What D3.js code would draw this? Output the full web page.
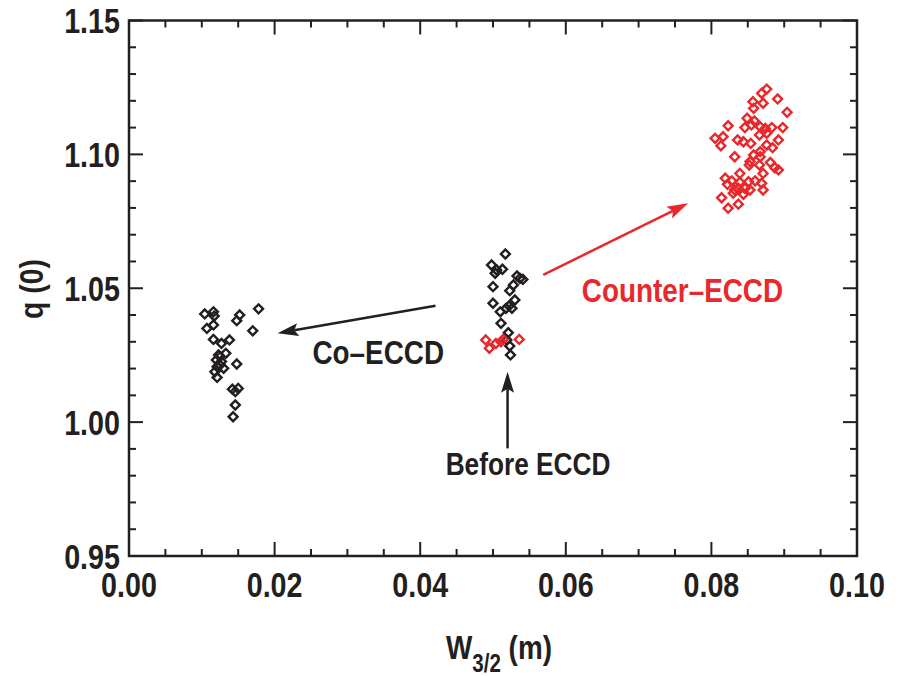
<!DOCTYPE html>
<html>
<head>
<meta charset="utf-8">
<script src="https://cdn.jsdelivr.net/npm/d3@7"></script>
<style>
  html, body { margin: 0; padding: 0; background: #fff; }
  svg text { font-family: "Liberation Sans", Arial, sans-serif; font-weight: bold; }
</style>
</head>
<body>
<svg id="chart" width="905" height="676"></svg>
<script>
// q(0) versus island width W3/2, grouped by ECCD phase
const coEccd = [
  [0.0104, 1.0404], [0.0116, 1.0412], [0.0117, 1.0396], [0.0107, 1.0350],
  [0.0116, 1.0363], [0.0152, 1.0400], [0.0148, 1.0379], [0.0178, 1.0423],
  [0.0170, 1.0341], [0.0116, 1.0309], [0.0127, 1.0294], [0.0138, 1.0307],
  [0.0133, 1.0257], [0.0123, 1.0251], [0.0120, 1.0232], [0.0127, 1.0226],
  [0.0121, 1.0207], [0.0130, 1.0201], [0.0118, 1.0188], [0.0121, 1.0167],
  [0.0148, 1.0217], [0.0142, 1.0123], [0.0150, 1.0126], [0.0146, 1.0114],
  [0.0146, 1.0064], [0.0143, 1.0020], [0.0125, 1.0244], [0.0125, 1.0213]
];
const beforeBlack = [
  [0.0517, 1.0628], [0.0498, 1.0587], [0.0505, 1.0568], [0.0513, 1.0571],
  [0.0503, 1.0556], [0.0533, 1.0546], [0.0541, 1.0533], [0.0528, 1.0512],
  [0.0500, 1.0506], [0.0523, 1.0491], [0.0530, 1.0456], [0.0500, 1.0444],
  [0.0522, 1.0434], [0.0518, 1.0425], [0.0510, 1.0412], [0.0526, 1.0425],
  [0.0511, 1.0369], [0.0521, 1.0334], [0.0519, 1.0307], [0.0523, 1.0284],
  [0.0524, 1.0251], [0.0537, 1.0537]
];
const beforeRed = [
  [0.0490, 1.0307], [0.0495, 1.0276], [0.0504, 1.0294], [0.0514, 1.0309],
  [0.0536, 1.0309], [0.0511, 1.0300]
];
const counterEccd = [
  [0.0876, 1.1244], [0.0869, 1.1228], [0.0891, 1.1207], [0.0857, 1.1197],
  [0.0871, 1.1191], [0.0858, 1.1172], [0.0904, 1.1157], [0.0849, 1.1135],
  [0.0859, 1.1125], [0.0823, 1.1107], [0.0846, 1.1100], [0.0855, 1.1110],
  [0.0867, 1.1103], [0.0874, 1.1097], [0.0883, 1.1100], [0.0898, 1.1100],
  [0.0866, 1.1072], [0.0876, 1.1079], [0.0805, 1.1060], [0.0816, 1.1066],
  [0.0813, 1.1032], [0.0836, 1.1054], [0.0844, 1.1047], [0.0854, 1.1041],
  [0.0892, 1.1054], [0.0876, 1.1035], [0.0884, 1.1025], [0.0867, 1.1010],
  [0.0858, 1.0998], [0.0832, 1.0991], [0.0853, 1.0973], [0.0852, 1.0960],
  [0.0866, 1.0960], [0.0881, 1.0970], [0.0887, 1.0950], [0.0892, 1.0942],
  [0.0839, 1.0929], [0.0871, 1.0929], [0.0819, 1.0911], [0.0828, 1.0901],
  [0.0822, 1.0888], [0.0839, 1.0896], [0.0851, 1.0898], [0.0860, 1.0901],
  [0.0869, 1.0892], [0.0832, 1.0867], [0.0846, 1.0873], [0.0853, 1.0867],
  [0.0871, 1.0867], [0.0844, 1.0851], [0.0830, 1.0855], [0.0814, 1.0838],
  [0.0837, 1.0814], [0.0823, 1.0799], [0.0867, 1.0991], [0.0837, 1.0873]
];

const xTicks = [0.00, 0.02, 0.04, 0.06, 0.08, 0.10];
const yTicks = [0.95, 1.00, 1.05, 1.10, 1.15];

// annotation arrows, head at "to"
const arrows = [
  { from: [0.0421, 1.0435], to: [0.0204, 1.0332], color: "#231f20" },
  { from: [0.0520, 0.9902], to: [0.0520, 1.0188], color: "#231f20" },
  { from: [0.0569, 1.0550], to: [0.0768, 1.0817], color: "#e8282b" }
];
const labels = [
  { text: "Co\u2013ECCD", at: [0.0252, 1.0217], color: "#231f20", size: 34 },
  { text: "Before ECCD", at: [0.0435, 0.9803], color: "#231f20", size: 32 },
  { text: "Counter\u2013ECCD", at: [0.0622, 1.0450], color: "#e8282b", size: 34 }
];

const BLACK = "#231f20", RED = "#e8282b";
const NARROW = 0.82; // horizontal squeeze for the condensed bold lettering
const svg = d3.select("#chart");
const L = 129, R = 857, T = 20.5, B = 556;

const x = d3.scaleLinear().domain([0, 0.10]).range([L, R]);
const y = d3.scaleLinear().domain([0.95, 1.15]).range([B, T]);

// condensed text placed at (px, py)
function narrowText(parent, px, py, size, anchor, color) {
  return parent.append("g")
    .attr("transform", `translate(${px},${py}) scale(${NARROW},1)`)
    .append("text")
    .attr("text-anchor", anchor).attr("font-size", size).attr("fill", color);
}

// frame with inward ticks on all four sides
const xMinor = d3.range(0, 0.1001, 0.005);
const yMinor = d3.range(0.95, 1.1501, 0.01);
function isMajor(v, step) { return Math.abs(v / step - Math.round(v / step)) < 1e-6; }

const axisG = svg.append("g").attr("stroke", BLACK).attr("stroke-width", 2);
xMinor.forEach(v => {
  const len = isMajor(v, 0.02) ? 14 : 7;
  axisG.append("line").attr("x1", x(v)).attr("x2", x(v)).attr("y1", B).attr("y2", B - len);
  axisG.append("line").attr("x1", x(v)).attr("x2", x(v)).attr("y1", T).attr("y2", T + len);
});
yMinor.forEach(v => {
  const len = isMajor(v - 0.95, 0.05) ? 14 : 7;
  axisG.append("line").attr("y1", y(v)).attr("y2", y(v)).attr("x1", L).attr("x2", L + len);
  axisG.append("line").attr("y1", y(v)).attr("y2", y(v)).attr("x1", R).attr("x2", R - len);
});
svg.append("rect").attr("x", L).attr("y", T).attr("width", R - L).attr("height", B - T)
  .attr("fill", "none").attr("stroke", BLACK).attr("stroke-width", 2.5);

// tick labels
const fmt = d3.format(".2f");
const tickG = svg.append("g");
xTicks.forEach(v => narrowText(tickG, x(v), 597, 35, "middle", BLACK).text(fmt(v)));
yTicks.forEach(v => narrowText(tickG, L - 9, y(v) + 12.5, 35, "end", BLACK).text(fmt(v)));

// axis titles
const xt = narrowText(svg, 499, 659, 34, "middle", BLACK);
xt.append("tspan").text("W");
xt.append("tspan").attr("font-size", 25).attr("dy", 13).text("3/2");
xt.append("tspan").attr("dy", -13).text(" (m)");

svg.append("g").attr("transform", "translate(43,289) rotate(-90) scale(0.86,1)")
  .append("text").attr("text-anchor", "middle").attr("font-size", 33)
  .attr("fill", BLACK).text("q (0)");

// hollow diamond markers
const diamond = d3.symbol().type(d3.symbolSquare).size(40);
function drawPoints(data, color) {
  svg.append("g").selectAll("path").data(data).join("path")
    .attr("d", diamond)
    .attr("transform", d => `translate(${x(d[0])},${y(d[1])}) rotate(45)`)
    .attr("fill", "none").attr("stroke", color).attr("stroke-width", 2.4);
}
drawPoints(coEccd, BLACK);
drawPoints(beforeBlack, BLACK);
drawPoints(beforeRed, RED);
drawPoints(counterEccd, RED);

// arrows
arrows.forEach(a => {
  const x0 = x(a.from[0]), y0 = y(a.from[1]), x1 = x(a.to[0]), y1 = y(a.to[1]);
  const ang = Math.atan2(y1 - y0, x1 - x0);
  const headLen = 21, half = 6.5, notch = 4;
  const ux = Math.cos(ang), uy = Math.sin(ang), px = -uy, py = ux;
  svg.append("line")
    .attr("x1", x0).attr("y1", y0)
    .attr("x2", x1 - ux * (headLen - notch)).attr("y2", y1 - uy * (headLen - notch))
    .attr("stroke", a.color).attr("stroke-width", 2.5);
  const pts = [
    [x1, y1],
    [x1 - ux * headLen + px * half, y1 - uy * headLen + py * half],
    [x1 - ux * (headLen - notch), y1 - uy * (headLen - notch)],
    [x1 - ux * headLen - px * half, y1 - uy * headLen - py * half]
  ];
  svg.append("path").attr("d", d3.line()(pts) + "Z").attr("fill", a.color);
});

// annotation labels
const labG = svg.append("g");
labels.forEach(d => narrowText(labG, x(d.at[0]), y(d.at[1]), d.size, "start", d.color).text(d.text));
</script>
</body>
</html>
